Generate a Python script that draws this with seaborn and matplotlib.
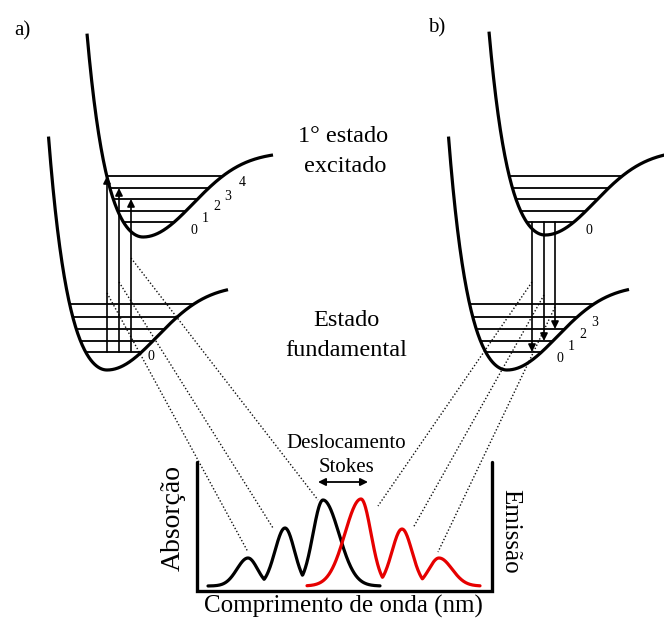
import numpy as np
import pandas as pd
import matplotlib
matplotlib.use("Agg")
import matplotlib.pyplot as plt
import seaborn as sns

# ---------------- data ----------------
# potential-curve shape (pixel units): left wall A*(cosh(dx/S)-1), right D*(1-exp(-(dx/W)^2))
WALL_A, WALL_S = 30.3, 20.5
DEPTH, WIDTH = 85.0, 71.0

curve_names = ["exc_a", "gnd_a", "exc_b", "gnd_b"]
curve_min_x = [143, 107, 545, 507]
curve_min_y = [237, 370, 235, 370]
curve_left_dx = [-56, -58.5, -56, -58.5]
curve_right_dx = [130, 121, 125, 122]

exc_levels = [222, 211, 199, 188, 176]   # vibrational levels v=0..4 (excited)
gnd_levels = [352, 341, 329, 317, 304]   # vibrational levels v=0..4 (ground)

# spectra
baseline = 586
abs_peak_x = [248, 285, 323]
abs_height = [28, 58, 86]
abs_sig_l = [11, 10, 10]
abs_sig_r = [9.5, 9.5, 16]
emi_peak_x = [361, 402, 439]
emi_height = [87, 57, 28]
emi_sig_l = [16, 10, 10]
emi_sig_r = [10, 10, 13]
abs_range = (208, 380)
emi_range = (307, 480)

# ---------------- helpers ----------------
def potential(dx):
    dx = np.asarray(dx, float)
    left = WALL_A * (np.cosh(dx / WALL_S) - 1)
    right = DEPTH * (1 - np.exp(-(dx / WIDTH) ** 2))
    return np.where(dx < 0, left, right)

def level_span(h):
    l = -WALL_S * np.arccosh(1 + h / WALL_A)
    r = WIDTH * np.sqrt(-np.log(1 - h / DEPTH))
    return l, r

def band(x, px, hh, sl, sr):
    y = np.zeros_like(x)
    for p, h, a, b in zip(px, hh, sl, sr):
        s = np.where(x < p, a, b)
        y = np.maximum(y, h * np.exp(-0.5 * ((x - p) / s) ** 2))
    return y

# ---------------- figure ----------------
sns.set_theme(style="white")
plt.rcParams["font.family"] = ["Liberation Serif", "DejaVu Serif"]
plt.rcParams["text.color"] = "black"
fig = plt.figure(figsize=(6.64, 6.19), dpi=100)
ax = fig.add_axes([0, 0, 1, 1])

CURVE_LW = 2.3
LEVEL_LW = 1.3

# spectra (seaborn)
xa = np.linspace(*abs_range, 400)
xe = np.linspace(*emi_range, 400)
df = pd.concat([
    pd.DataFrame({"x": xa, "y": baseline - band(xa, abs_peak_x, abs_height, abs_sig_l, abs_sig_r),
                  "band": "abs"}),
    pd.DataFrame({"x": xe, "y": baseline - band(xe, emi_peak_x, emi_height, emi_sig_l, emi_sig_r),
                  "band": "emi"}),
])
sns.lineplot(data=df, x="x", y="y", hue="band", palette={"abs": "black", "emi": "#e60000"},
             sort=False, legend=False, ax=ax, linewidth=2.3, zorder=5, estimator=None)
ax.set_xlim(0, 664)
ax.set_ylim(619, 0)
ax.axis("off")

# potential curves + levels
for name, mx, my, ldx, rdx in zip(curve_names, curve_min_x, curve_min_y,
                                  curve_left_dx, curve_right_dx):
    dx = np.linspace(ldx, rdx, 400)
    ax.plot(mx + dx, my - potential(dx), color="black", lw=CURVE_LW,
            solid_capstyle="butt", zorder=3)
    levels = exc_levels if name.startswith("exc") else gnd_levels
    for ly in levels:
        h = my - ly
        l, r = level_span(h)
        ax.plot([mx + l, mx + r], [ly, ly], color="black", lw=LEVEL_LW, zorder=2)

# level labels: (curve index, level index, label, offset)
label_specs = [
    (0, 0, "0", 20, 9), (0, 1, "1", 19, 8), (0, 2, "2", 19, 8),
    (0, 3, "3", 19, 8), (0, 4, "4", 19, 7),
    (1, 0, "0", 9, 5),
    (2, 0, "0", 15, 8),
    (3, 0, "0", 18, 6), (3, 1, "1", 18, 6), (3, 2, "2", 18, 6), (3, 3, "3", 18, 6),
]
for ci, li, txt, ox, oy in label_specs:
    mx, my = curve_min_x[ci], curve_min_y[ci]
    levels = exc_levels if curve_names[ci].startswith("exc") else gnd_levels
    ly = levels[li]
    _, r = level_span(my - ly)
    ax.text(mx + r + ox, ly + oy, txt, fontsize=10, ha="center", va="center")

# transitions
arrow_kw = dict(arrowstyle="-|>", lw=1.2, color="black", mutation_scale=11,
                shrinkA=0, shrinkB=0)
abs_x = [107, 119, 131]
abs_to = [4, 3, 2]
for x, lv in zip(abs_x, abs_to):
    ax.annotate("", xy=(x, exc_levels[lv]), xytext=(x, gnd_levels[0]),
                arrowprops=arrow_kw, zorder=4)
emi_x = [532, 544, 555]
emi_to = [0, 1, 2]
for x, lv in zip(emi_x, emi_to):
    ax.annotate("", xy=(x, gnd_levels[lv]), xytext=(x, exc_levels[0]),
                arrowprops=arrow_kw, zorder=4)

# dotted guide lines
dot_start = [(107, 293), (119, 282), (131, 258), (532, 282), (544, 295), (555, 307)]
dot_end = [(248, 552), (273, 528), (318, 500), (378, 506), (413, 528), (438, 552)]
for (x0, y0), (x1, y1) in zip(dot_start, dot_end):
    ax.plot([x0, x1], [y0, y1], color="#111111", lw=1.0,
            linestyle=(0, (1, 1.5)), zorder=1)

# box
ax.plot([197, 197, 492, 492], [462, 591, 591, 462], color="black", lw=2.4,
        solid_joinstyle="miter", zorder=5)

# Stokes arrow
ax.annotate("", xy=(368, 482), xytext=(318, 482),
            arrowprops=dict(arrowstyle="<|-|>", lw=1.3, color="black",
                            mutation_scale=11, shrinkA=0, shrinkB=0))

# texts
FS = 17.5
ax.text(22, 31, "a)", fontsize=15, ha="center", va="center")
ax.text(437, 28, "b)", fontsize=15, ha="center", va="center")
ax.text(343, 137, "1° estado", fontsize=FS, ha="center", va="center")
ax.text(345, 166, "excitado", fontsize=FS, ha="center", va="center")
ax.text(346, 320, "Estado", fontsize=FS, ha="center", va="center")
ax.text(346, 350, "fundamental", fontsize=FS, ha="center", va="center")
ax.text(346, 444, "Deslocamento", fontsize=15, ha="center", va="center")
ax.text(346, 467, "Stokes", fontsize=15, ha="center", va="center")
ax.text(343, 606, "Comprimento de onda (nm)", fontsize=18, ha="center", va="center")
ax.text(173, 518, "Absorção", fontsize=20, ha="center", va="center", rotation=90)
ax.text(510, 531, "Emissão", fontsize=18, ha="center", va="center", rotation=-90)

fig.savefig("out.png", dpi=100, facecolor="white")
